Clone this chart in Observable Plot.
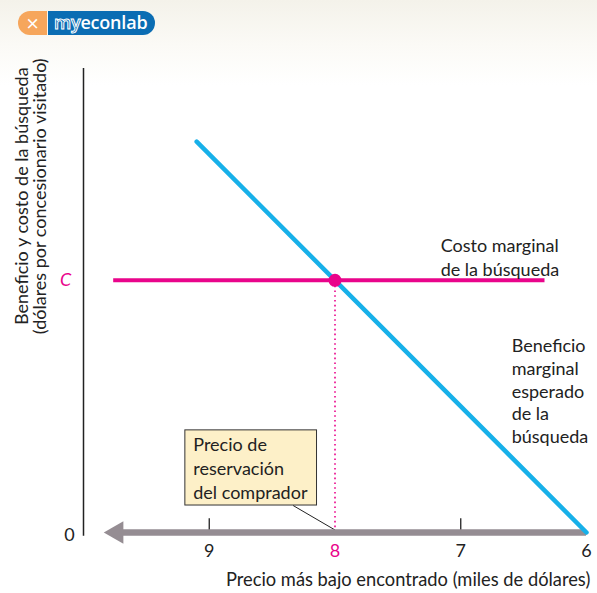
<!DOCTYPE html>
<html>
<head>
<meta charset="utf-8">
<script src="https://cdn.jsdelivr.net/npm/d3@7"></script>
<script src="https://cdn.jsdelivr.net/npm/@observablehq/plot@0.6"></script>
<style>
  html, body { margin: 0; padding: 0; }
  body { width: 597px; height: 593px; position: relative; overflow: hidden;
         background: linear-gradient(#f4f2ea 0px, #fbfaf6 45px, #ffffff 85px); font-family: Lato, sans-serif; }
  #logo { position: absolute; left: 18px; top: 11px; height: 24px; display: flex; z-index: 2; }
  #logo .l { width: 29px; height: 24px; background: #f6a65c; border-radius: 12px 0 0 12px; color: #fff;
             font: 400 17px/24px "DejaVu Sans", sans-serif; text-align: center; }
  #logo .r { width: 107px; height: 24px; background: #0b6db3; border-radius: 0 12px 12px 0; margin-left: 1px;
             color: #fff; font: 600 18px/23px "Open Sans", sans-serif; padding-left: 6px; box-sizing: border-box; letter-spacing: -0.2px; }
  #logo .r .my { color: #0b6db3; -webkit-text-stroke: 1px #fff; }
  #chart { position: absolute; left: 0; top: 0; }
</style>
</head>
<body>
<div id="logo"><div class="l">⨯</div><div class="r"><span class="my">my</span>econlab</div></div>
<div id="chart"></div>
<script>
// Values (price in thousands of dollars, reversed axis)
const xTicks = [9, 8, 7, 6];
const reservationPrice = 8;
const costLevel = 2;              // "C"
const benefitLine = [ {price: 9.1, value: 3.1}, {price: 6, value: 0} ];
const costLine = {from: 9.76, to: 6.33, value: costLevel};
const yLabel = "Beneficio y costo de la búsqueda\n(dólares por concesionario visitado)";
const xLabel = "Precio más bajo encontrado (miles de dólares)";
const costLabel = "Costo marginal\nde la búsqueda";
const benefitLabel = "Beneficio\nmarginal\nesperado\nde la\nbúsqueda";
const boxLabel = "Precio de\nreservación\ndel comprador";

const magenta = "#e9048b", blue = "#17b0e9", axisGray = "#958d93";
const font = "Lato, sans-serif";

const chart = Plot.plot({
  width: 597, height: 593,
  marginLeft: 83, marginRight: 11, marginTop: 68, marginBottom: 61,
  x: {domain: [10, 6], axis: null},
  y: {domain: [0, 3.68], axis: null},
  style: {background: "transparent", fontFamily: font, overflow: "visible"},
  marks: [
    // y axis line
    Plot.ruleX([10], {y1: -0.03, y2: 3.68, stroke: "#222", strokeWidth: 1.5}),
    // tick marks
    Plot.ruleX(xTicks.filter(d => d !== reservationPrice && d !== 6), {y1: 0, y2: 0.11, stroke: "#222", strokeWidth: 1.3}),
    // reservation-price dotted line
    Plot.ruleX([reservationPrice], {y1: 0, y2: costLevel, stroke: magenta, strokeWidth: 1.6, strokeDasharray: "1.6,3.2"}),
    // callout box
    Plot.rect([boxLabel], {x1: 9.19, x2: 8.143, y1: 0.214, y2: 0.81, fill: "#fdf0c8", stroke: "#333", strokeWidth: 1}),
    Plot.text([boxLabel], {x: 9.127, y: 0.516, text: d => d, textAnchor: "start", lineAnchor: "middle", lineHeight: 1.33, fontSize: 18, fill: "#222"}),
    Plot.link([boxLabel], {x1: 8.333, y1: 0.214, x2: reservationPrice, y2: 0.02, stroke: "#222", strokeWidth: 1}),
    // x axis arrow
    Plot.ruleY([0], {x1: 9.74, x2: 6, stroke: axisGray, strokeWidth: 6.5}),
    Plot.dot([0], {x: 9.735, y: 0, symbol: "triangle", r: 8.4, rotate: -90, fill: axisGray, stroke: "none"}),
    // benefit line
    Plot.line(benefitLine, {x: "price", y: "value", stroke: blue, strokeWidth: 4.5}),
    // cost line
    Plot.ruleY([costLine], {x1: "from", x2: "to", y: "value", stroke: magenta, strokeWidth: 4}),
    Plot.dot([costLine], {x: reservationPrice, y: "value", r: 6.5, fill: magenta, stroke: "none"}),
    // tick labels
    Plot.text(xTicks, {x: d => d, y: 0, dy: 19, text: d => String(d), fontSize: 18,
      fill: d => d === reservationPrice ? magenta : "#222"}),
    // y values
    Plot.text(["0"], {x: 10, y: 0, dx: -14, dy: 3, text: d => d, fontSize: 18, fill: "#222"}),
    Plot.text(["C"], {x: 10, y: costLevel, dx: -18, text: d => d, fontSize: 18, fontStyle: "italic", fill: magenta}),
    // curve labels
    Plot.text([costLabel], {x: 7.16, y: 2.19, text: d => d, textAnchor: "start", lineAnchor: "middle", lineHeight: 1.3, fontSize: 18, fill: "#222"}),
    Plot.text([benefitLabel], {x: 6.595, y: 1.127, text: d => d, textAnchor: "start", lineAnchor: "middle", lineHeight: 1.26, fontSize: 18, fill: "#222"}),
    // axis titles
    Plot.text([yLabel], {x: 10.413, y: 2.667, text: d => d, rotate: -90, lineAnchor: "middle", lineHeight: 1.0, fontSize: 18, fill: "#222"}),
    Plot.text([xLabel], {x: 5.97, y: -0.38, text: d => d, textAnchor: "end", fontSize: 18.3, fill: "#222"})
  ]
});
document.getElementById("chart").appendChild(chart);
</script>
</body>
</html>
